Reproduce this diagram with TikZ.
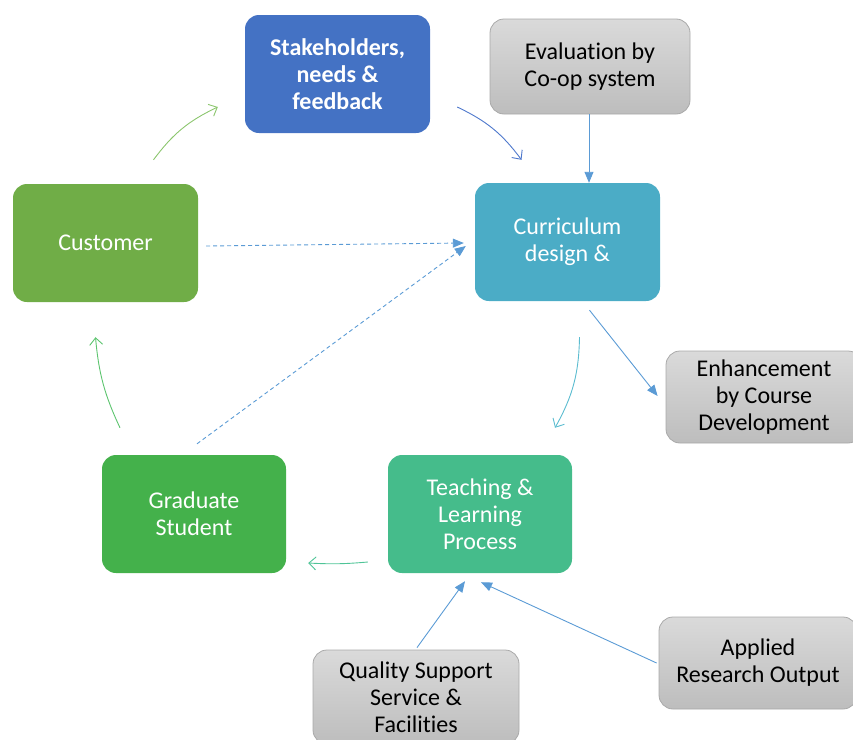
\documentclass[tikz,border=0pt]{standalone}
\usepackage{fontspec}
\setmainfont[Ligatures={NoCommon}]{Carlito}
\usetikzlibrary{arrows.meta,calc}
\definecolor{cblue}{HTML}{4472C4}
\definecolor{cgreen}{HTML}{70AD47}
\definecolor{cteal}{HTML}{4BACC6}
\definecolor{cgrad}{HTML}{44B14B}
\definecolor{cteach}{HTML}{45BC8B}
\definecolor{lblue}{HTML}{5B9BD5}
\definecolor{lgreen}{HTML}{8CC66E}
\definecolor{lgreen2}{HTML}{5CC46E}
\definecolor{sblue}{HTML}{4E78CC}
\definecolor{lteal}{HTML}{5BBCD0}
\definecolor{lmint}{HTML}{4FC497}
\definecolor{gtop}{HTML}{DADADA}
\definecolor{gbot}{HTML}{BDBDBD}
\definecolor{gedge}{HTML}{A9A9A9}
\tikzset{
  box/.style={rounded corners=14pt, draw=none, text=white, align=center,
    font=\fontsize{24}{27}\selectfont, inner sep=0pt},
  gbox/.style={rounded corners=14pt, draw=gedge, line width=0.8pt, top color=gtop, bottom color=gbot,
    text=black, align=center, font=\fontsize{24}{27}\selectfont, inner sep=0pt},
  openarr/.style={line width=0.9pt, -{Straight Barb[length=7pt,width=13pt,line width=0.9pt]}},
  fillarr/.style={line width=0.9pt, draw=lblue, -{Triangle[length=11pt,width=9pt,fill=lblue]}},
  dasharr/.style={line width=0.9pt, draw=lblue, dash pattern=on 4pt off 3pt,
    -{Triangle[length=11pt,width=9pt,fill=lblue]}},
}
\begin{document}
\begin{tikzpicture}[x=1pt,y=-1pt]
\useasboundingbox (0,0) rectangle (853,739);
\node[box, fill=cblue, minimum width=185pt, minimum height=118pt, font=\fontsize{24}{27}\selectfont\bfseries] (stake) at (337.5,74) {Stakeholders,\\needs \&\\feedback};
\node[gbox, minimum width=200pt, minimum height=95pt] (eval) at (590,66.5) {Evaluation by\\Co-op system};
\node[box, fill=cgreen, minimum width=185pt, minimum height=118pt] (cust) at (105.5,243) {Customer};
\node[box, fill=cteal, minimum width=185pt, minimum height=118pt] (curr) at (567.5,242) {Curriculum\\design \&};
\node[gbox, minimum width=196pt, minimum height=92pt] (enh) at (764,397) {Enhancement\\by Course\\Development};
\node[box, fill=cgrad, minimum width=184pt, minimum height=118pt] (grad) at (194,514) {Graduate\\Student};
\node[box, fill=cteach, minimum width=184pt, minimum height=118pt] (teach) at (480,514) {Teaching \&\\Learning\\Process};
\node[gbox, minimum width=206pt, minimum height=94pt] (qual) at (416,697) {Quality Support\\Service \&\\Facilities};
\node[gbox, minimum width=198pt, minimum height=92pt] (appl) at (758,663) {Applied\\Research Output};

\draw[openarr, lgreen] ($(cust.north)+(48,-24)$) to[bend left=14] ($(stake.west)+(-27,33)$);
\draw[openarr, sblue] ($(stake.east)+(27,33)$) to[bend left=14] ($(curr.north)+(-46,-23)$);
\draw[fillarr] (eval.south -| 589,0) -- (curr.north -| 589,0);
\draw[dasharr] ($(cust.east)+(8,3)$) -- ($(curr.west)+(-11,1)$);
\draw[dasharr] ($(grad.north)+(3,-11)$) -- ($(curr.west)+(-9,4)$);
\draw[openarr, lteal] ($(curr.south)+(12,36)$) to[bend left=14] ($(teach.north)+(75,-27)$);
\draw[fillarr] ($(curr.south)+(22,9)$) -- ($(enh.west)+(-8,-1)$);
\draw[openarr, lmint] ($(teach.west)+(-20,48)$) to[bend left=4] ($(grad.east)+(22,49)$);
\draw[openarr, lgreen2] ($(grad.north)+(-74,-27)$) to[bend left=10] ($(cust.south)+(-10,35)$);
\draw[fillarr] ($(qual.north)+(1,-2)$) -- ($(teach.south)+(-15,8)$);
\draw[fillarr] ($(appl.west)+(-2,0)$) -- ($(teach.south)+(1,9)$);
\end{tikzpicture}
\end{document}
